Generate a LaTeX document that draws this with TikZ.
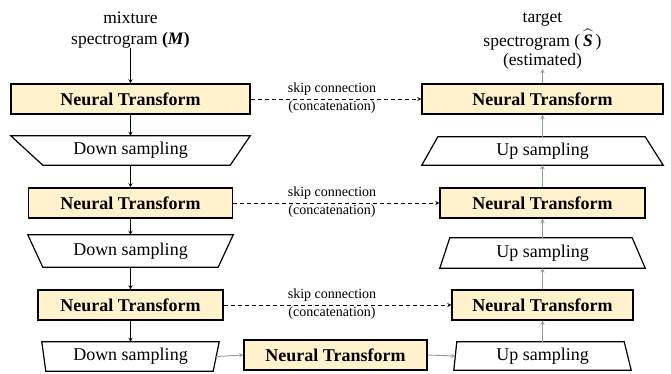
\documentclass[tikz,border=0pt]{standalone}
\usepackage{fontspec,amsmath}
\setmainfont{Liberation Serif}
\usetikzlibrary{calc,arrows}
\definecolor{ntfill}{HTML}{FFF2CC}
\definecolor{upline}{gray}{0.6}

\begin{document}
\begin{tikzpicture}[x=1pt, y=-1pt, >=stealth,
    nt/.style={rectangle, draw, line width=1.4pt, fill=ntfill, minimum height=30pt,
      inner sep=0pt, font=\fontsize{18}{20}\selectfont\bfseries},
    samp/.style={rectangle, inner sep=0pt, font=\fontsize{18}{20}\selectfont},
    trap/.style={draw, line width=1.2pt, line join=miter},
    skip/.style={->, dash pattern=on 4pt off 3pt, line width=0.8pt},
    skiplbl/.style={align=center, inner sep=0pt, font=\fontsize{14}{18}\selectfont},
    toplbl/.style={align=center, inner sep=0pt, font=\fontsize{17.5}{21}\selectfont},
    uparr/.style={->, draw=upline, line width=0.9pt}]

  \useasboundingbox (0,0) rectangle (671,373);

  % encoder side
  \node[toplbl, anchor=south] (in) at (130.5,48) {mixture\\spectrogram \textbf{(\textit{M})}};
  \node[nt, minimum width=239pt] (nt1) at (130.5,99) {Neural Transform};
  \node[samp, minimum width=239pt, minimum height=29pt] (ds1) at (130.5,150.5) {Down sampling};
  \node[nt, minimum width=204pt] (nt2) at (130.5,203) {Neural Transform};
  \node[samp, minimum width=205pt, minimum height=32pt] (ds2) at (130.5,251) {Down sampling};
  \node[nt, minimum width=185pt] (nt3) at (130.5,305) {Neural Transform};
  \node[samp, minimum width=177pt, minimum height=29pt] (ds3) at (130.5,356.5) {Down sampling};

  \node[nt, minimum width=183pt] (ntb) at (335.5,355) {Neural Transform};

  % decoder side
  \node[samp, minimum width=177pt, minimum height=28pt] (us3) at (542.5,356) {Up sampling};
  \node[nt, minimum width=181pt] (ntr3) at (542.5,305) {Neural Transform};
  \node[samp, minimum width=205pt, minimum height=30pt] (us2) at (542.5,253) {Up sampling};
  \node[nt, minimum width=205pt] (ntr2) at (542.5,203) {Neural Transform};
  \node[samp, minimum width=241pt, minimum height=28pt] (us1) at (542.5,151) {Up sampling};
  \node[nt, minimum width=241pt] (ntr1) at (542.5,99) {Neural Transform};
  \node[toplbl, anchor=south] (out) at (542.5,69)
    {target\\[2.5pt]spectrogram (\,$\widehat{\textbf{\textit{S}}}$\,)\\[-2pt](estimated)};

  % trapezoid outlines
  \draw[trap] (ds1.north west) -- (ds1.north east) -- ([xshift=-20pt]ds1.south east) -- ([xshift=32pt]ds1.south west) -- cycle;
  \draw[trap] (ds2.north west) -- (ds2.north east) -- ([xshift=-15pt]ds2.south east) -- ([xshift=15pt]ds2.south west) -- cycle;
  \draw[trap] (ds3.north west) -- (ds3.north east) -- ([xshift=-6pt]ds3.south east) -- ([xshift=4pt]ds3.south west) -- cycle;
  \draw[trap] (us1.south west) -- (us1.south east) -- ([xshift=-18pt]us1.north east) -- ([xshift=16pt]us1.north west) -- cycle;
  \draw[trap] (us2.south west) -- (us2.south east) -- ([xshift=-13pt]us2.north east) -- ([xshift=10pt]us2.north west) -- cycle;
  \draw[trap] (us3.south west) -- (us3.south east) -- ([xshift=-7pt]us3.north east) -- ([xshift=3pt]us3.north west) -- cycle;

  % down path
  \draw[->, line width=0.8pt] (in.south) -- (nt1.north);
  \draw[->, line width=0.8pt] (nt1.south) -- (ds1.north);
  \draw[->, line width=0.8pt] (ds1.south) -- (nt2.north);
  \draw[->, line width=0.8pt] (nt2.south) -- (ds2.north);
  \draw[->, line width=0.8pt] (ds2.south) -- (nt3.north);
  \draw[->, line width=0.8pt] (nt3.south) -- (ds3.north);
  \draw[uparr] ([xshift=-3pt]ds3.east) -- (ntb.west);
  \draw[uparr] (ntb.east) -- ([xshift=1.5pt]us3.west);

  % up path
  \draw[uparr] (us3.north) -- (ntr3.south);
  \draw[uparr] (ntr3.north) -- (us2.south);
  \draw[uparr] (us2.north) -- (ntr2.south);
  \draw[uparr] (ntr2.north) -- (us1.south);
  \draw[uparr] (us1.north) -- (ntr1.south);
  \draw[uparr] (ntr1.north) -- (out.south);

  % skip connections
  \draw[skip] (nt1.east) -- (ntr1.west);
  \draw[skip] (nt2.east) -- (ntr2.west);
  \draw[skip] (nt3.east) -- (ntr3.west);
  \node[skiplbl] (sk1) at (332,98) {skip connection\\(concatenation)};
  \node[skiplbl] (sk2) at (332,202) {skip connection\\(concatenation)};
  \node[skiplbl] (sk3) at (332,304) {skip connection\\(concatenation)};
\end{tikzpicture}
\end{document}
